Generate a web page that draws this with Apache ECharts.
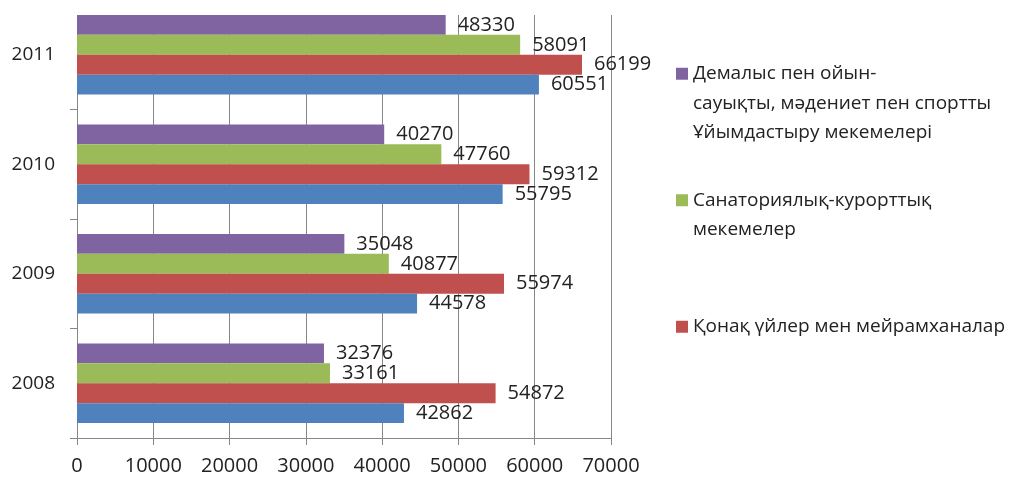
<!DOCTYPE html>
<html>
<head>
<meta charset="utf-8">
<script src="https://cdn.jsdelivr.net/npm/echarts@6/dist/echarts.min.js"></script>
<style>
  html, body { margin: 0; padding: 0; background: #fff; }
  #chart { width: 1013px; height: 484px; }
</style>
</head>
<body>
<div id="chart"></div>
<script>
// Years on the category axis (bottom to top)
const years = ['2008', '2009', '2010', '2011'];

// Series values per year
const blueValues = [42862, 44578, 55795, 60551];
const hotelValues = [54872, 55974, 59312, 66199];
const sanatoriumValues = [33161, 40877, 47760, 58091];
const leisureValues = [32376, 35048, 40270, 48330];

// Series names
const blueName = 'Қатар 1';
const hotelName = 'Қонақ үйлер мен мейрамханалар';
const sanatoriumName = 'Санаториялық-курорттық\nмекемелер';
const leisureName = 'Демалыс пен ойын-\nсауықты, мәдениет пен спортты\nҰйымдастыру мекемелері';

// Value axis scale
const axisMin = 0;
const axisMax = 70000;
const axisStep = 10000;

const COLORS = { blue: '#4F81BD', red: '#C0504D', green: '#9BBB59', purple: '#8064A2' };
const FONT = '"Open Sans", "Noto Sans", sans-serif';
const GRID_GRAY = '#878787';

const chart = echarts.init(document.getElementById('chart'));

const labelStyle = {
  show: true,
  position: 'right',
  distance: 12,
  color: '#222',
  fontFamily: FONT,
  fontSize: 20
};

function barSeries(name, values, color) {
  return {
    name: name,
    type: 'bar',
    data: values,
    itemStyle: { color: color },
    label: labelStyle,
    barGap: '0%',
    barCategoryGap: '27.3%'
  };
}

// One legend block per entry, icon aligned with the first text line
function legendBlock(name, top, leadingBlankLines) {
  return {
    data: [name],
    orient: 'vertical',
    left: 676,
    top: top,
    padding: 0,
    itemWidth: 12,
    itemHeight: 12,
    selectedMode: false,
    icon: 'rect',
    formatter: function (n) { return '\n'.repeat(leadingBlankLines) + n; },
    textStyle: {
      fontFamily: FONT,
      fontSize: 19,
      color: '#222',
      lineHeight: 29.5
    }
  };
}

chart.setOption({
  animation: false,
  backgroundColor: '#fff',
  grid: { left: 77, right: 402, top: -1, bottom: 46, containLabel: false },
  legend: [
    legendBlock(leisureName, 0, 2),
    legendBlock(sanatoriumName, 156, 1),
    legendBlock(hotelName, 312, 0)
  ],
  xAxis: {
    type: 'value',
    min: axisMin,
    max: axisMax,
    interval: axisStep,
    axisLine: { show: true, lineStyle: { color: GRID_GRAY, width: 1 } },
    axisTick: { show: true, length: 7, lineStyle: { color: GRID_GRAY } },
    splitLine: { show: true, lineStyle: { color: GRID_GRAY, width: 1 } },
    axisLabel: {
      margin: 18, color: '#222', fontFamily: FONT, fontSize: 20,
      formatter: function (v) { return String(v); }
    }
  },
  yAxis: {
    type: 'category',
    data: years,
    axisLine: { show: true, lineStyle: { color: GRID_GRAY, width: 1 } },
    axisTick: { show: true, length: 7, lineStyle: { color: GRID_GRAY } },
    axisLabel: { margin: 22, color: '#222', fontFamily: FONT, fontSize: 19 }
  },
  // White band across the top edge of the plot
  graphic: [{
    type: 'rect',
    left: 0,
    top: 0,
    shape: { width: 1013, height: 15 },
    style: { fill: '#fff' },
    z: 1,
    silent: true
  }],
  // Within each year the first series sits at the top of the group
  series: [
    barSeries(leisureName, leisureValues, COLORS.purple),
    barSeries(sanatoriumName, sanatoriumValues, COLORS.green),
    barSeries(hotelName, hotelValues, COLORS.red),
    barSeries(blueName, blueValues, COLORS.blue)
  ]
});
</script>
</body>
</html>
